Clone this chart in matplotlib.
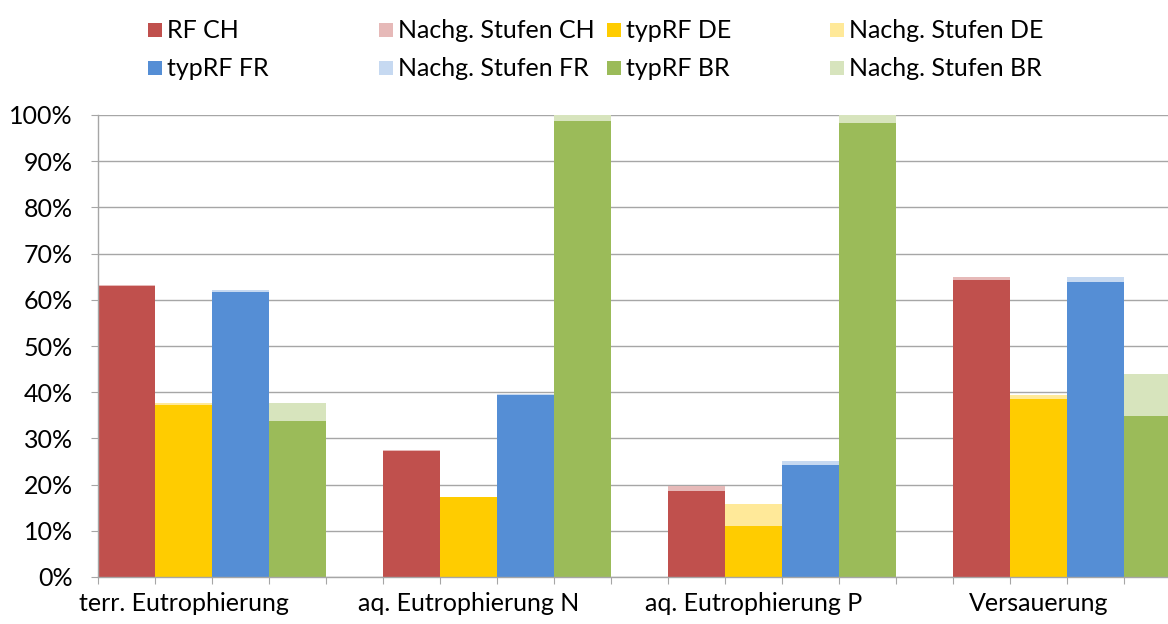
import matplotlib
matplotlib.use("Agg")
import matplotlib.pyplot as plt
from matplotlib.patches import Rectangle
from matplotlib.ticker import FuncFormatter, FixedLocator

plt.rcParams['font.family'] = ['Lato', 'DejaVu Sans']

categories = ["terr. Eutrophierung", "aq. Eutrophierung N", "aq. Eutrophierung P", "Versauerung"]

series_labels = ["RF CH", "Nachg. Stufen CH", "typRF DE", "Nachg. Stufen DE",
                 "typRF FR", "Nachg. Stufen FR", "typRF BR", "Nachg. Stufen BR"]

rf_ch    = [63.0, 27.3, 18.6, 64.3]
nachg_ch = [0.2, 0.1, 1.0, 0.6]
typ_de   = [37.2, 17.3, 11.1, 38.5]
nachg_de = [0.4, 0.1, 4.7, 0.9]
typ_fr   = [61.6, 39.5, 24.2, 63.9]
nachg_fr = [0.5, 0.1, 1.0, 1.0]
typ_br   = [33.8, 98.8, 98.2, 34.8]
nachg_br = [3.9, 1.2, 1.8, 9.2]

base_colors  = ["#C0504D", "#FFCC00", "#558ED5", "#9BBB59"]
light_colors = ["#E6B9B8", "#FFE999", "#C6D9F1", "#D7E4BD"]

pairs = [(rf_ch, nachg_ch), (typ_de, nachg_de), (typ_fr, nachg_fr), (typ_br, nachg_br)]

W, H = 1168, 624
fs = 18
fig = plt.figure(figsize=(W / 100, H / 100), dpi=100)
slot = 57
ax = fig.add_axes([98 / W, 47 / H, slot * 19 / W, 462 / H])

for s, (base, extra) in enumerate(pairs):
    xs = [g * 5 + s + 0.5 for g in range(len(categories))]
    ax.bar(xs, base, width=1.0, color=base_colors[s], linewidth=0, zorder=2)
    ax.bar(xs, extra, width=1.0, bottom=base, color=light_colors[s], linewidth=0, zorder=2)

ax.set_xlim(0, 19)
ax.set_ylim(0, 100)

gray = "#A6A6A6"
ax.set_yticks(range(0, 101, 10))
ax.yaxis.set_major_formatter(FuncFormatter(lambda v, p: f"{int(v)}%"))
ax.grid(axis='y', color=gray, linewidth=1.0, zorder=0)
ax.set_axisbelow(True)

ax.xaxis.set_major_locator(FixedLocator(range(0, 20)))
ax.xaxis.set_major_formatter(FuncFormatter(lambda v, p: ""))
ax.xaxis.set_minor_locator(FixedLocator([g * 5 + 1.5 for g in range(len(categories))]))
ax.set_xticklabels(categories, minor=True)

ax.tick_params(axis='x', which='major', direction='out', length=5, width=0.8, color=gray)
ax.tick_params(axis='x', which='minor', length=0, pad=11, labelsize=fs, labelcolor='black')
ax.tick_params(axis='y', direction='out', length=5, width=0.8, color=gray, pad=13,
               labelsize=fs, labelcolor='black')

for sp in ['top', 'right']:
    ax.spines[sp].set_visible(False)
for sp in ['left', 'bottom']:
    ax.spines[sp].set_color(gray)
    ax.spines[sp].set_linewidth(1.0)

# Legend (two rows of four entries)
legend_colors = []
for b, l in zip(base_colors, light_colors):
    legend_colors += [b, l]
col_x = [148, 379, 607, 830]
row_y = [30, 68]
order = [(0, 0), (0, 1), (0, 2), (0, 3), (1, 0), (1, 1), (1, 2), (1, 3)]
box = 14
for i, (r, c) in enumerate(order):
    x0 = col_x[c]
    yc = row_y[r]
    fig.add_artist(Rectangle((x0 / W, (H - yc - box / 2) / H), box / W, box / H,
                             transform=fig.transFigure, color=legend_colors[i], linewidth=0))
    fig.text((x0 + box + 5) / W, (H - yc) / H, series_labels[i], fontsize=fs,
             va='center', ha='left', color='black')

fig.savefig("out.png", dpi=100)
